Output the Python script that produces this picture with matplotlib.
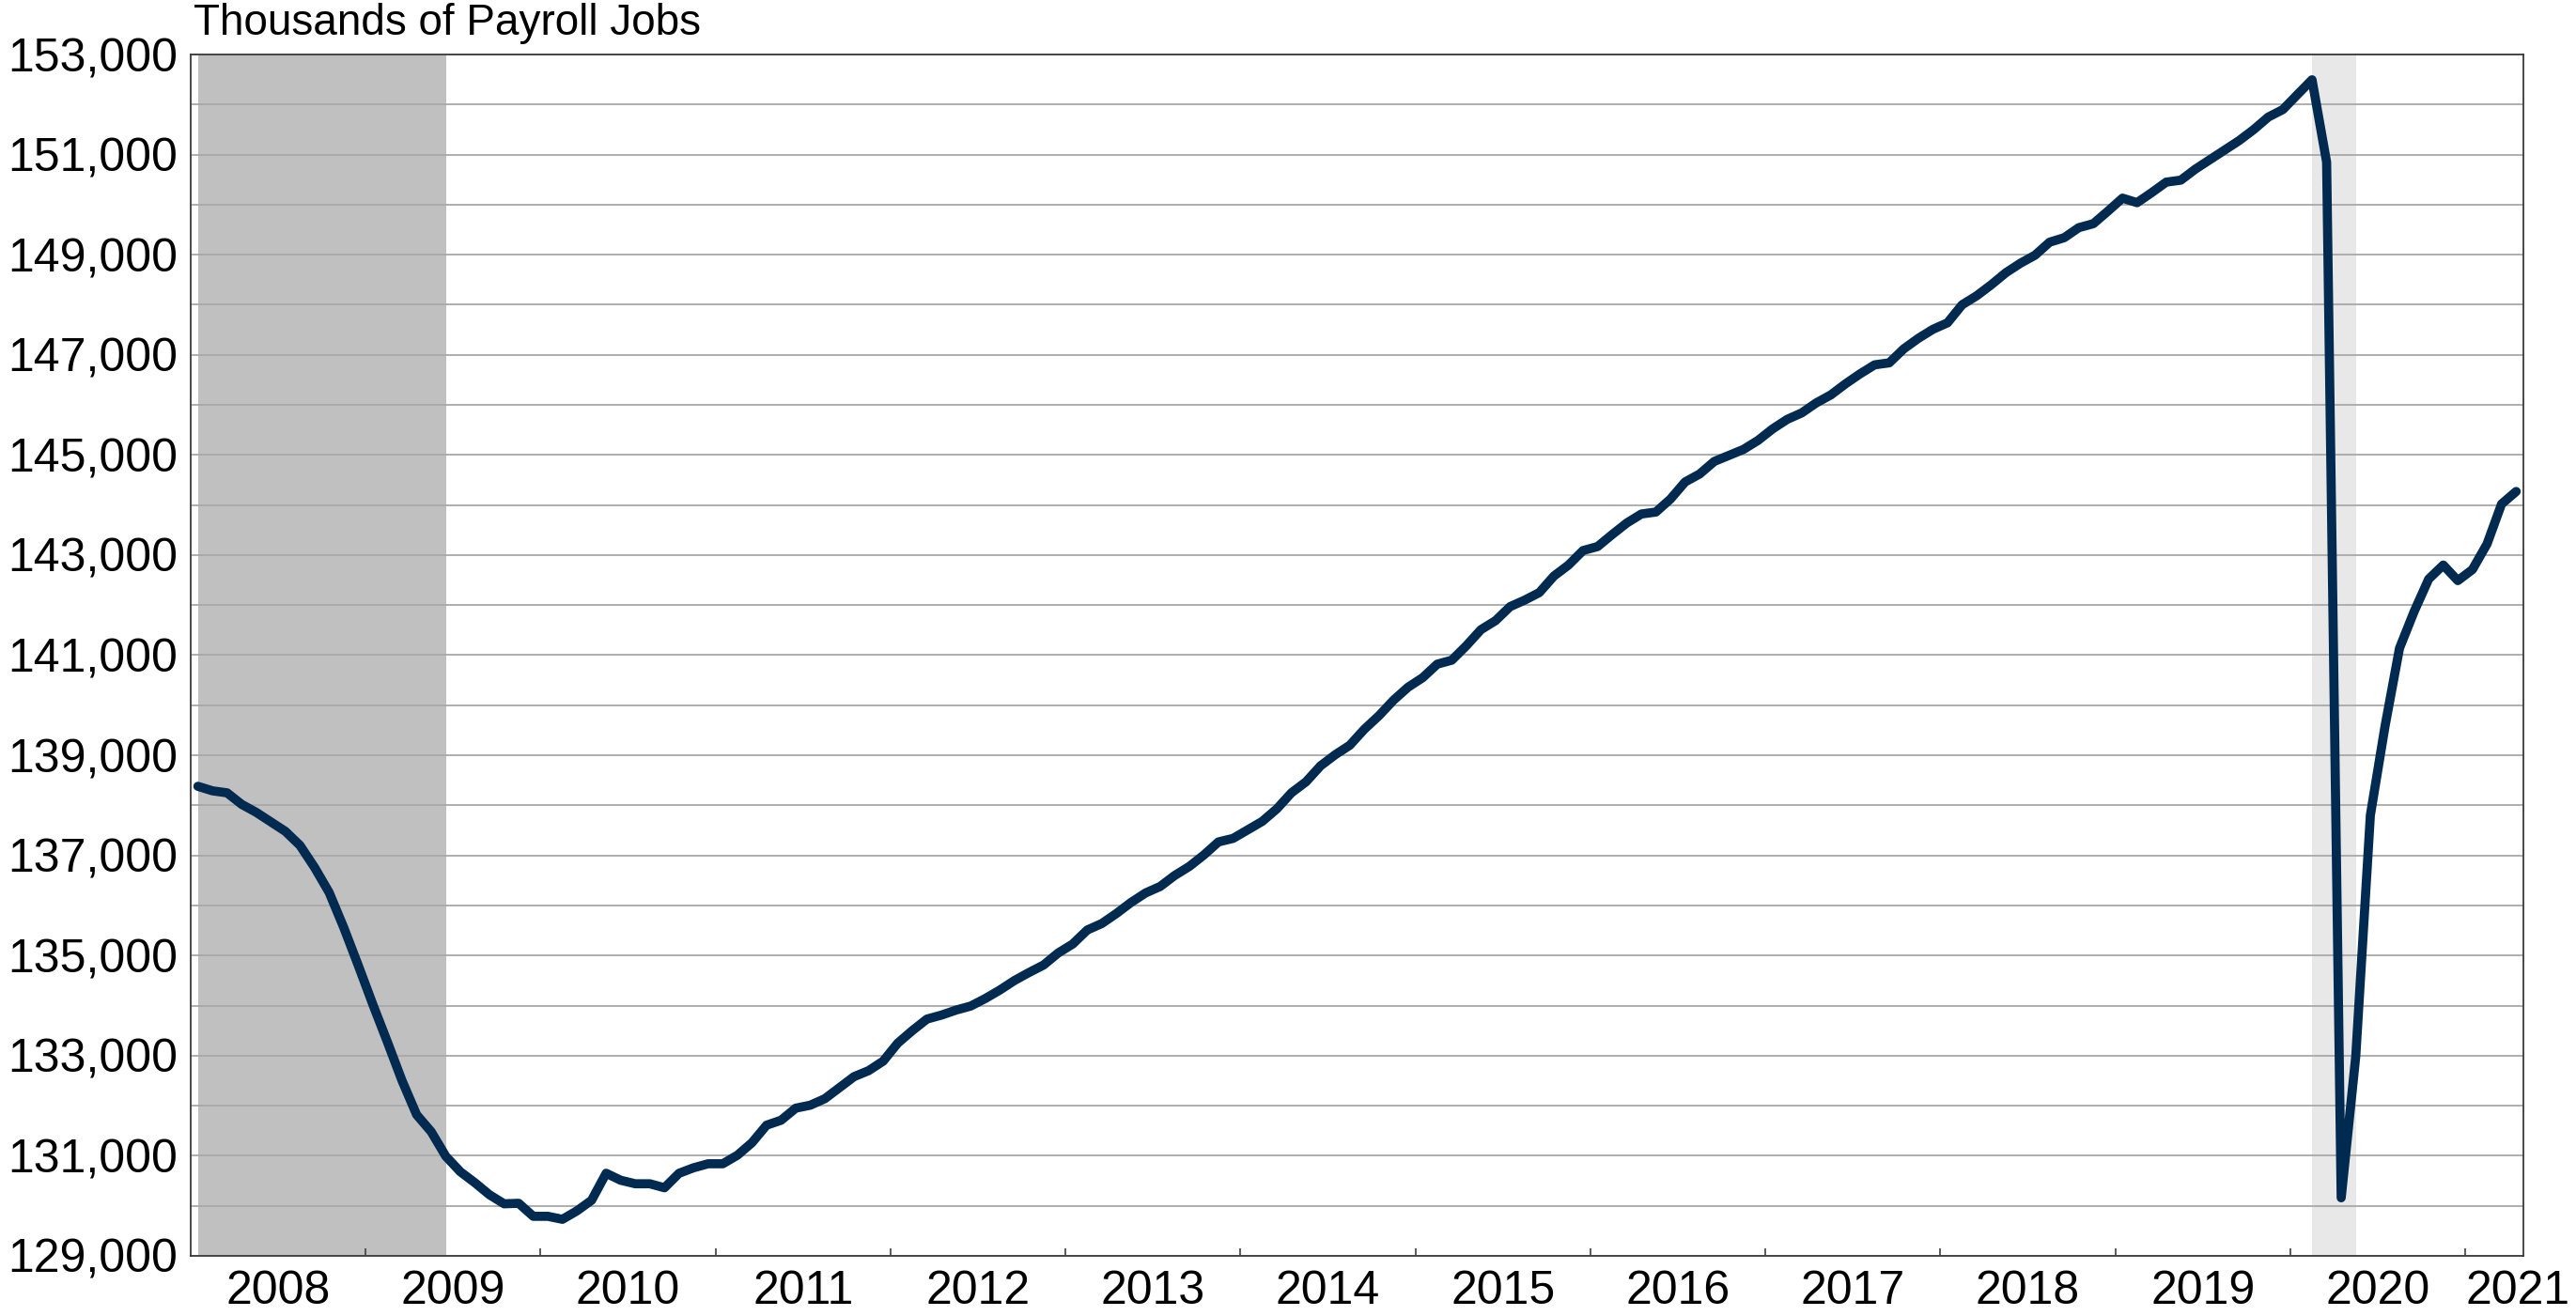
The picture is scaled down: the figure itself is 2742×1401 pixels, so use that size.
import matplotlib.pyplot as plt
import numpy as np
from matplotlib.ticker import MultipleLocator, FuncFormatter

# thousands of payroll jobs, monthly, Jan 2008 - Apr 2021
jobs_2008 = [138380, 138290, 138250, 138020, 137860, 137670, 137480, 137200, 136760, 136260, 135560, 134800]
jobs_2009 = [134020, 133270, 132500, 131820, 131480, 130990, 130680, 130460, 130220, 130040, 130050, 129790]
jobs_2010 = [129790, 129730, 129900, 130110, 130650, 130510, 130440, 130440, 130360, 130650, 130760, 130840]
jobs_2011 = [130840, 131010, 131260, 131610, 131710, 131950, 132010, 132140, 132360, 132580, 132700, 132890]
jobs_2012 = [133250, 133500, 133730, 133810, 133910, 133990, 134140, 134310, 134500, 134660, 134810, 135050]
jobs_2013 = [135230, 135510, 135640, 135840, 136060, 136250, 136380, 136600, 136780, 137010, 137270, 137340]
jobs_2014 = [137510, 137680, 137930, 138250, 138470, 138790, 139010, 139200, 139520, 139790, 140100, 140360]
jobs_2015 = [140550, 140820, 140900, 141190, 141510, 141690, 141970, 142100, 142250, 142580, 142800, 143090]
jobs_2016 = [143170, 143410, 143640, 143820, 143860, 144120, 144460, 144620, 144870, 144990, 145110, 145290]
jobs_2017 = [145520, 145710, 145840, 146040, 146200, 146420, 146620, 146800, 146840, 147120, 147330, 147510]
jobs_2018 = [147640, 148000, 148180, 148400, 148640, 148830, 148990, 149250, 149340, 149540, 149620, 149870]
jobs_2019 = [150130, 150040, 150240, 150450, 150490, 150710, 150900, 151090, 151280, 151500, 151750, 151900]
jobs_2020 = [152200, 152495, 150850, 130160, 132990, 137800, 139570, 141140, 141870, 142520, 142800, 142490]
jobs_2021 = [142710, 143220, 144020, 144270]

years = list(range(2008, 2022))
y_labels = list(range(129000, 153001, 2000))
# recession shading, in months from Jan 2008 (month centres)
recession_0809 = (0, 17)
recession_2020 = (145, 148)

jobs = np.array(jobs_2008 + jobs_2009 + jobs_2010 + jobs_2011 + jobs_2012 + jobs_2013 +
                jobs_2014 + jobs_2015 + jobs_2016 + jobs_2017 + jobs_2018 + jobs_2019 +
                jobs_2020 + jobs_2021)
months = np.arange(len(jobs)) + 0.5

plt.rcParams['font.family'] = ['Liberation Sans', 'DejaVu Sans']

fig = plt.figure(figsize=(27.42, 14.01), dpi=100)
ax = fig.add_axes([0.074, 0.0457, 0.9056, 0.9129])

ax.axvspan(recession_0809[0] + 0.5, recession_0809[1] + 0.5, color='#c0c0c0', lw=0, zorder=0)
ax.axvspan(recession_2020[0] + 0.5, recession_2020[1] + 0.5, color='#e8e8e8', lw=0, zorder=0)

ax.plot(months, jobs, color='#002a50', lw=7, solid_joinstyle='round',
        solid_capstyle='round', zorder=3)

ax.set_xlim(0, len(jobs))
ax.set_ylim(129000, 153000)

ax.set_yticks(y_labels)
ax.yaxis.set_minor_locator(MultipleLocator(1000))
ax.yaxis.set_major_formatter(FuncFormatter(lambda v, p: f'{v:,.0f}'))
ax.grid(axis='y', which='both', color='#a8a8a8', lw=1.3, zorder=1)
ax.set_axisbelow(True)

# year boundaries as ticks, year names in between
ax.set_xticks(np.arange(12, len(jobs), 12))
ax.set_xticklabels([])
label_pos = [12 * k + 6 for k in range(len(years) - 1)] + [len(jobs) - 0.4]
ax.set_xticks(label_pos, minor=True)
ax.set_xticklabels([str(y) for y in years], minor=True)

ax.tick_params(axis='x', which='major', direction='in', length=6, width=1.2, color='#404040')
ax.tick_params(axis='x', which='minor', length=0, pad=11, labelsize=36)
ax.tick_params(axis='y', which='both', length=0, pad=10, labelsize=36)

for s in ax.spines.values():
    s.set_color('#3a3a3a')
    s.set_linewidth(1.3)

fig.text(0.0752, 1 - 37 / 1401, 'Thousands of Payroll Jobs', fontsize=33, va='baseline', ha='left')

plt.savefig('out.png', dpi=100)
